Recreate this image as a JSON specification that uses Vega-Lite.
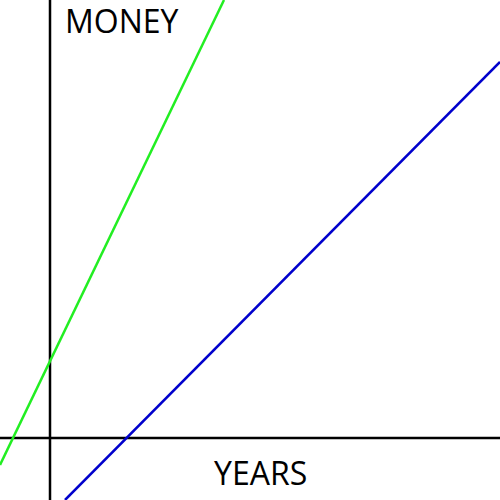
{
  "$schema": "https://vega.github.io/schema/vega-lite/v6.json",
  "autosize": {"type": "fit", "contains": "padding"},
  "width": 500,
  "height": 500,
  "padding": 0,
  "background": "white",
  "config": {"view": {"stroke": null}},
  "datasets": {
    "lines": [
      {"series": "yaxis", "px": 50, "py": 0},
      {"series": "yaxis", "px": 50, "py": 500},
      {"series": "xaxis", "px": 0, "py": 62},
      {"series": "xaxis", "px": 500, "py": 62},
      {"series": "green", "px": 0, "py": 35},
      {"series": "green", "px": 224, "py": 500},
      {"series": "blue", "px": 65, "py": 0},
      {"series": "blue", "px": 500, "py": 438}
    ],
    "labels": [
      {"label": "MONEY", "px": 65, "py": 477},
      {"label": "YEARS", "px": 214, "py": 25}
    ]
  },
  "layer": [
    {
      "data": {"name": "lines"},
      "mark": {"type": "line", "strokeWidth": 2.5, "clip": true},
      "encoding": {
        "x": {"field": "px", "type": "quantitative", "scale": {"domain": [0, 500]}, "axis": null},
        "y": {"field": "py", "type": "quantitative", "scale": {"domain": [0, 500]}, "axis": null},
        "detail": {"field": "series"},
        "color": {
          "field": "series",
          "type": "nominal",
          "scale": {"domain": ["yaxis", "xaxis", "green", "blue"], "range": ["#000000", "#000000", "#22ee22", "#0000cc"]},
          "legend": null
        }
      }
    },
    {
      "data": {"name": "labels"},
      "mark": {"type": "text", "align": "left", "baseline": "middle", "font": "Open Sans", "fontSize": 32, "color": "black"},
      "encoding": {
        "x": {"field": "px", "type": "quantitative", "scale": {"domain": [0, 500]}, "axis": null},
        "y": {"field": "py", "type": "quantitative", "scale": {"domain": [0, 500]}, "axis": null},
        "text": {"field": "label"}
      }
    }
  ]
}
